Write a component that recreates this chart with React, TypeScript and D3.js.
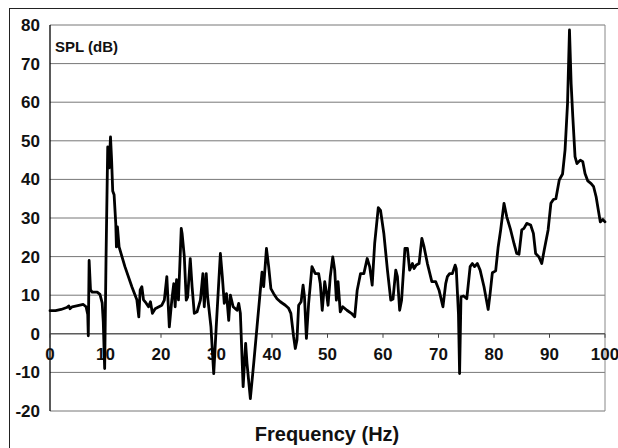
import React from "react";
import * as d3 from "d3";

// spectrum
const freq = [
  0, 1, 2, 3, 3.4, 3.6, 4, 5, 6, 6.5, 6.8, 6.9, 7.05, 7.3, 7.6, 8.5, 9.0, 9.4, 9.6, 9.85,
  10.1, 10.4, 10.65, 10.9, 11.1, 11.3, 11.55, 11.85, 11.97, 12.15, 12.45, 13.5, 14.75, 15.65, 16.0, 16.25, 16.55, 16.85, 17.3, 17.75,
  18.1, 18.45, 18.95, 20.15, 20.6, 21.05, 21.5, 21.95, 22.3, 22.55, 22.8, 23.15, 23.65, 23.8, 24.2, 24.55, 24.8, 25.27, 25.6, 26.0,
  26.5, 27.1, 27.55, 27.8, 28.15, 28.4, 29.0, 29.5, 29.95, 30.7, 31.05, 31.4, 31.8, 32.2, 32.5, 33.0, 33.7, 34.0, 34.3, 34.8,
  35.25, 35.5, 36.1, 36.7, 37.3, 37.9, 38.2, 38.5, 39.0, 39.4, 39.8, 40.3, 40.9, 41.5, 42.4, 43.0, 43.4, 43.9, 44.2, 44.5,
  44.8, 45.25, 45.6, 45.85, 46.2, 46.6, 47.2, 47.8, 48.4, 48.7, 49.05, 49.5, 49.75, 50.1, 50.5, 50.95, 51.3, 51.6, 51.9, 52.3,
  52.75, 53.5, 54.3, 54.9, 55.35, 55.95, 56.55, 57.15, 57.6, 58.05, 58.5, 59.15, 59.55, 60.15, 60.8, 61.4, 61.8, 62.3, 62.6, 63.0,
  63.35, 63.95, 64.4, 64.8, 65.3, 65.6, 66.0, 66.5, 67.0, 67.4, 68.0, 68.8, 69.5, 70.1, 70.8, 71.3, 71.6, 72.0, 72.5, 73.0,
  73.2, 73.6, 73.8, 74.05, 74.5, 75.1, 75.7, 76.1, 76.5, 77.0, 77.5, 78.2, 78.95, 79.3, 79.7, 80.3, 80.75, 81.2, 81.8, 82.3,
  83.0, 83.6, 84.1, 84.5, 85.0, 85.4, 85.9, 86.6, 87.1, 87.5, 88.1, 88.6, 89.05, 89.75, 90.25, 90.7, 91.15, 91.75, 92.35, 92.8,
  93.25, 93.6, 93.9, 94.2, 94.6, 94.95, 95.55, 96.0, 96.4, 96.9, 97.5, 97.95, 98.4, 98.8, 99.15, 99.6, 100,
];
const spl = [
  6, 6, 6.3, 6.8, 7.2, 6.5, 7, 7.3, 7.6, 7, 5, -0.5, 19, 11.4, 10.8, 10.8, 10.2, 8, 3, -9,
  20, 48.4, 43, 51, 45, 37, 36, 28.6, 22.5, 27.7, 22.5, 17.4, 12.2, 8.8, 4.4, 11.4, 12.2, 8.8, 8, 7,
  8.3, 5.3, 6.5, 7.4, 8.7, 14.8, 1.8, 8.8, 13, 7, 14, 8.8, 27.3, 26, 20, 8.7, 9.5, 19.5, 12.2, 5.3,
  5.7, 8.7, 15.6, 7, 15.6, 9.6, 1.8, -10.3, 1.8, 20.8, 14.8, 7.9, 10.4, 3.5, 10, 7, 6.1, 7.9, 5.3, -13.7,
  -2.5, -7.7, -16.8, -7.7, 1.8, 11.3, 16, 12.2, 22.1, 17.4, 11.7, 10.4, 9.1, 8.3, 7.4, 6.6, 5.3, -0.8, -3.8, -1.6,
  7.4, 8.3, 12.6, 9.6, -1.2, 7.9, 17.4, 15.6, 15.6, 13, 6.1, 13.5, 11.3, 7.4, 14.8, 19.9, 16.5, 8.7, 13.5, 5.7,
  7, 6.1, 5.3, 4.4, 11.3, 15.6, 15.6, 19.5, 17.4, 12.6, 23.4, 32.7, 32, 26, 16.5, 8.7, 9, 16.5, 14.8, 6.1,
  8.7, 22.1, 22.1, 16.5, 18.2, 16.9, 17.8, 18.2, 24.7, 22.5, 18.2, 13.5, 13.5, 11.3, 7, 13, 14.8, 15.6, 15.6, 17.8,
  16.9, 5, -10.3, 9.6, 9.8, 9.1, 17.4, 18.2, 17.4, 18.2, 16.5, 12.2, 6.3, 10.4, 15.8, 16.3, 22.5, 26.9, 33.8, 30.3,
  26.9, 23.4, 20.8, 20.6, 26.9, 27.3, 28.6, 28.2, 26, 20.8, 19.9, 18.2, 21.7, 26.9, 33.8, 34.8, 35, 39.8, 41.4, 47.6,
  59.7, 78.7, 64.8, 56.2, 45.9, 44.1, 45, 44.6, 41.5, 39.6, 38.9, 38.1, 35.5, 32, 29, 29.6, 29,
];
const xTicks = [0, 10, 20, 30, 40, 50, 60, 70, 80, 90, 100];
const yTicks = [-20, -10, 0, 10, 20, 30, 40, 50, 60, 70, 80];

const font = "'Liberation Sans', Arial, sans-serif";

export default function App() {
  const width = 618, height = 448;
  const x = d3.scaleLinear().domain([0, 100]).range([50, 605]);
  const y = d3.scaleLinear().domain([-20, 80]).range([411, 25]);

  const line = d3.line<number>()
    .x((_, i) => x(freq[i]))
    .y((d) => y(d));

  return (
    <svg width={width} height={height}
      style={{ position: "absolute", left: 0, top: 0, background: "#fff" }}>
      {/* outer frame */}
      <rect x={9.5} y={8.5} width={620} height={450} fill="none" stroke="#222" strokeWidth={1} />

      {/* horizontal gridlines */}
      {yTicks.map((t) => (
        <line key={"g" + t} x1={x(0)} x2={x(100)} y1={y(t)} y2={y(t)} stroke="#777" strokeWidth={1} />
      ))}
      {/* right border */}
      <line x1={x(100)} x2={x(100)} y1={y(80)} y2={y(-20)} stroke="#888" strokeWidth={1} />
      {/* y axis */}
      <line x1={x(0)} x2={x(0)} y1={y(80)} y2={y(-20)} stroke="#000" strokeWidth={1.3} />
      {/* x axis at 0 */}
      <line x1={x(0)} x2={x(100)} y1={y(0)} y2={y(0)} stroke="#444" strokeWidth={1} />

      {xTicks.map((t) => (
        <g key={"x" + t}>
          <line x1={x(t)} x2={x(t)} y1={y(0)} y2={y(0) + 4} stroke="#444" />
          <text x={x(t)} y={y(0) + 26} textAnchor="middle" fontFamily={font}
            fontWeight="bold" fontSize={17} fill="#111">{t}</text>
        </g>
      ))}
      {yTicks.map((t) => (
        <text key={"y" + t} x={40} y={y(t) + 6} textAnchor="end" fontFamily={font}
          fontWeight="bold" fontSize={17} fill="#111">{t}</text>
      ))}

      <path d={line(spl) || ""} fill="none" stroke="#000" strokeWidth={2.8}
        strokeLinejoin="round" strokeLinecap="round" />

      <text x={55} y={52} fontFamily={font} fontWeight="bold" fontSize={15} fill="#111">SPL (dB)</text>
      <text x={327} y={441} textAnchor="middle" fontFamily={font} fontWeight="bold"
        fontSize={20} fill="#111">Frequency (Hz)</text>
    </svg>
  );
}
